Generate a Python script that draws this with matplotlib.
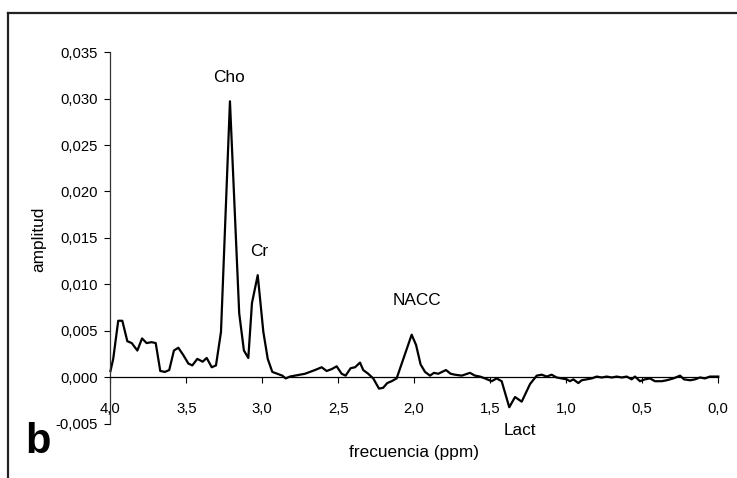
import matplotlib
matplotlib.use("Agg")
import matplotlib.pyplot as plt
from matplotlib.lines import Line2D

plt.rcParams['font.family'] = ['Liberation Sans', 'DejaVu Sans']

# espectro: frecuencia (ppm) y amplitud
ppm = [4.000, 3.982, 3.949, 3.922, 3.889, 3.860, 3.823, 3.792, 3.762, 3.729,
       3.702, 3.672, 3.641, 3.613, 3.582, 3.553, 3.520, 3.487, 3.461, 3.428,
       3.393, 3.366, 3.333, 3.305, 3.272, 3.213, 3.152, 3.121, 3.092, 3.068,
       3.030, 2.993, 2.964, 2.934, 2.901, 2.868, 2.846, 2.818, 2.785, 2.752,
       2.719, 2.686, 2.653, 2.609, 2.576, 2.543, 2.510, 2.477, 2.451, 2.418,
       2.389, 2.356, 2.335, 2.302, 2.269, 2.231, 2.203, 2.177, 2.148, 2.115,
       2.016, 1.987, 1.957, 1.928, 1.895, 1.869, 1.841, 1.790, 1.759, 1.731,
       1.686, 1.632, 1.599, 1.566, 1.533, 1.489, 1.456, 1.423, 1.373, 1.335,
       1.291, 1.236, 1.192, 1.159, 1.126, 1.094, 1.061, 1.028, 0.995, 0.973,
       0.951, 0.918, 0.896, 0.863, 0.830, 0.797, 0.764, 0.731, 0.698, 0.665,
       0.632, 0.599, 0.567, 0.545, 0.512, 0.479, 0.446, 0.413, 0.369, 0.336,
       0.292, 0.248, 0.222, 0.182, 0.149, 0.117, 0.084, 0.051, 0.029, -0.004]
amplitud = [0.0007, 0.0020, 0.0061, 0.0061, 0.0039, 0.0037, 0.0029, 0.0042, 0.0037, 0.0038,
            0.0037, 0.0007, 0.0006, 0.0008, 0.0029, 0.0032, 0.0024, 0.0015, 0.0013, 0.0020,
            0.0017, 0.0021, 0.0011, 0.0013, 0.0049, 0.0297, 0.0069, 0.0029, 0.0021, 0.0080,
            0.0110, 0.0049, 0.0020, 0.0006, 0.0004, 0.0002, -0.0001, 0.0001, 0.0002, 0.0003,
            0.0004, 0.0006, 0.0008, 0.0011, 0.0007, 0.0009, 0.0012, 0.0004, 0.0002, 0.0010,
            0.0011, 0.0016, 0.0008, 0.0004, -0.0001, -0.0012, -0.0011, -0.0006, -0.0004, -0.0001,
            0.0046, 0.0035, 0.0014, 0.0006, 0.0002, 0.0005, 0.0004, 0.0008, 0.0004, 0.0003,
            0.0002, 0.0005, 0.0002, 0.0001, -0.0001, -0.0004, -0.0001, -0.0004, -0.0032, -0.0021,
            -0.0026, -0.0007, 0.0002, 0.0003, 0.0001, 0.0003, 0.0000, -0.0001, -0.0002, -0.0004,
            -0.0002, -0.0006, -0.0003, -0.0002, -0.0001, 0.0001, 0.0000, 0.0001, 0.0000, 0.0001,
            0.0000, 0.0001, -0.0002, 0.0001, -0.0004, -0.0002, -0.0001, -0.0004, -0.0004, -0.0003,
            -0.0001, 0.0002, -0.0002, -0.0003, -0.0002, 0.0000, -0.0001, 0.0001, 0.0001, 0.0001]

x_ticks = [4.0, 3.5, 3.0, 2.5, 2.0, 1.5, 1.0, 0.5, 0.0]
x_labels = ['4,0', '3,5', '3,0', '2,5', '2,0', '1,5', '1,0', '0,5', '0,0']
y_ticks = [-0.005, 0.0, 0.005, 0.010, 0.015, 0.020, 0.025, 0.030, 0.035]
y_labels = ['-0,005', '0,000', '0,005', '0,010', '0,015', '0,020', '0,025', '0,030', '0,035']

# etiquetas de los picos (ppm, amplitud)
picos = ['Cho', 'Cr', 'NACC', 'Lact']
picos_x = [3.219, 3.022, 1.981, 1.302]
picos_y = [0.0323, 0.0135, 0.0083, -0.0057]

fig = plt.figure(figsize=(7.37, 4.78), dpi=100)
ax = fig.add_axes([0.1499, 0.1130, 0.8239, 0.7782])

ax.plot(ppm, amplitud, color='black', lw=1.6, clip_on=False)

ax.set_xlim(4.0, 0.0)
ax.set_ylim(-0.005, 0.035)
ax.set_xticks(x_ticks)
ax.set_xticklabels(x_labels)
ax.set_yticks(y_ticks)
ax.set_yticklabels(y_labels)

ax.spines['top'].set_visible(False)
ax.spines['right'].set_visible(False)
ax.spines['bottom'].set_position(('data', 0))
ax.spines['bottom'].set_linewidth(0.9)
ax.spines['left'].set_linewidth(0.9)
ax.spines['left'].set_color('#333333')

ax.tick_params(axis='x', direction='out', length=4, width=0.8, pad=13.5, labelsize=10.7)
ax.tick_params(axis='y', direction='out', length=4, width=0.8, pad=5, labelsize=10.7)

for nombre, px, py in zip(picos, picos_x, picos_y):
    ax.text(px, py, nombre, ha='center', va='center', fontsize=12.4, clip_on=False)

fig.text(413.5 / 737, 1 - 453 / 478, 'frecuencia (ppm)', ha='center', va='center', fontsize=12.4)
fig.text(39 / 737, 1 - 239 / 478, 'amplitud', ha='center', va='center', rotation=90, fontsize=12.4)
fig.text(25 / 737, 1 - 453 / 478, 'b', ha='left', va='baseline', fontsize=30, fontweight='bold')

# marco de la figura (solo lados izquierdo y superior visibles)
fx = 7.5 / 737
fy = 1 - 12.5 / 478
fig.add_artist(Line2D([fx, fx], [0, fy], transform=fig.transFigure, color='#222222', lw=1.6))
fig.add_artist(Line2D([fx, 1], [fy, fy], transform=fig.transFigure, color='#222222', lw=1.6))

fig.savefig('out.png', dpi=100)
